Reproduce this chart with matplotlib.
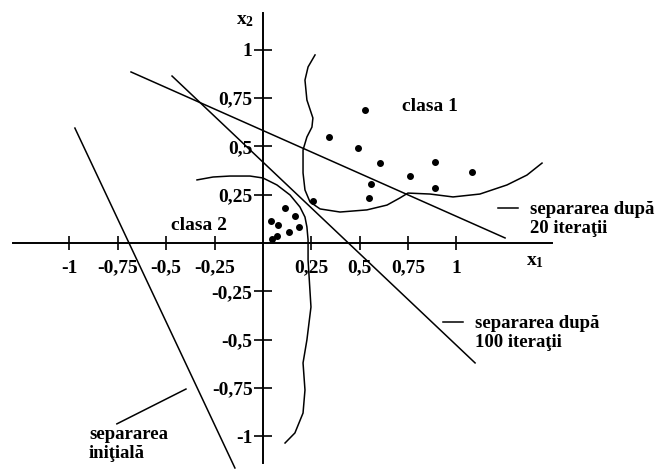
import matplotlib.pyplot as plt
import numpy as np

plt.rcParams["font.family"] = ["Liberation Serif", "DejaVu Serif"]
plt.rcParams["font.weight"] = "bold"
plt.rcParams["mathtext.fontset"] = "custom"
plt.rcParams["mathtext.rm"] = "Liberation Serif"
plt.rcParams["mathtext.bf"] = "Liberation Serif:bold"

# axis ticks and their labels (decimal comma)
x_ticks = [-1, -0.75, -0.5, -0.25, 0.25, 0.5, 0.75, 1]
x_tick_labels = ["-1", "-0,75", "-0,5", "-0,25", "0,25", "0,5", "0,75", "1"]
y_ticks = [1, 0.75, 0.5, 0.25, -0.25, -0.5, -0.75, -1]
y_tick_labels = ["1", "0,75", "0,5", "0,25", "-0,25", "-0,5", "-0,75", "-1"]

# training points
class1_x = [0.527, 0.341, 0.491, 0.605, 0.889, 0.760, 1.080, 0.558, 0.889, 0.548, 0.258]
class1_y = [0.687, 0.548, 0.491, 0.413, 0.419, 0.346, 0.367, 0.305, 0.284, 0.233, 0.217]
class2_x = [0.114, 0.165, 0.041, 0.078, 0.186, 0.134, 0.072, 0.047]
class2_y = [0.181, 0.140, 0.114, 0.093, 0.083, 0.057, 0.036, 0.021]

# hand-drawn class boundaries
bound1_x = [0.269, 0.233, 0.217, 0.227, 0.258, 0.253, 0.227, 0.207, 0.207, 0.217, 0.243, 0.295,
            0.398, 0.537, 0.641, 0.708, 0.749, 0.863, 0.982, 1.121, 1.261, 1.364, 1.442]
bound1_y = [0.972, 0.910, 0.842, 0.739, 0.646, 0.599, 0.548, 0.481, 0.362, 0.274, 0.212, 0.176,
            0.160, 0.171, 0.196, 0.233, 0.258, 0.253, 0.238, 0.253, 0.300, 0.351, 0.413]
bound2_x = [-0.341, -0.258, -0.171, -0.067, 0.0, 0.072, 0.140, 0.191, 0.217, 0.227, 0.233,
            0.233, 0.248, 0.227, 0.207, 0.217, 0.207, 0.165, 0.114]
bound2_y = [0.326, 0.341, 0.346, 0.346, 0.336, 0.300, 0.248, 0.186, 0.134, 0.083, 0.016,
            -0.088, -0.331, -0.501, -0.620, -0.760, -0.879, -0.982, -1.034]

# separating lines (end points)
sep_initial_x = [-0.972, -0.145]
sep_initial_y = [0.594, -1.163]
sep_20_x = [-0.682, 1.251]
sep_20_y = [0.884, 0.026]
sep_100_x = [-0.470, 1.096]
sep_100_y = [0.863, -0.620]

fig = plt.figure(figsize=(6.56, 4.73), dpi=100)
ax = fig.add_axes([0, 0, 1, 1])
ax.set_xlim(-1.359, 2.031)
ax.set_ylim(-1.189, 1.256)

# axes crossing at the origin
for side in ["top", "right"]:
    ax.spines[side].set_visible(False)
ax.spines["left"].set_position("zero")
ax.spines["bottom"].set_position("zero")
ax.spines["left"].set_bounds(-1.137, 1.189)
ax.spines["bottom"].set_bounds(-1.292, 1.494)
for side in ["left", "bottom"]:
    ax.spines[side].set_linewidth(1.4)

ax.set_xticks(x_ticks)
ax.set_xticklabels(x_tick_labels)
ax.set_yticks(y_ticks)
ax.set_yticklabels(y_tick_labels)
ax.tick_params(axis="x", direction="inout", length=10, width=1.2, pad=7, labelsize=14)
ax.tick_params(axis="y", direction="inout", length=13, width=1.2, pad=1, labelsize=14)

lw = 1.1
ax.plot(sep_initial_x, sep_initial_y, color="black", lw=lw)
ax.plot(sep_20_x, sep_20_y, color="black", lw=lw)
ax.plot(sep_100_x, sep_100_y, color="black", lw=lw)
ax.plot(bound1_x, bound1_y, color="black", lw=lw)
ax.plot(bound2_x, bound2_y, color="black", lw=lw)

ax.plot(class1_x, class1_y, "o", color="black", markersize=4)
ax.plot(class2_x, class2_y, "o", color="black", markersize=4)

fs = 14
ax.text(-0.093, 1.152, r"$\mathbf{x_2}$", fontsize=fs, ha="center", va="center")
ax.text(1.406, -0.098, r"$\mathbf{x_1}$", fontsize=fs, ha="center", va="center")
ax.text(0.863, 0.703, "clasa 1", fontsize=fs, ha="center", va="center")
ax.text(-0.331, 0.088, "clasa 2", fontsize=fs, ha="center", va="center")

# annotations for the separating lines
afs = 13.5
ax.plot([1.214, 1.318], [0.181, 0.181], color="black", lw=lw)
ax.text(1.380, 0.215, "separarea după\n20 iteraţii", fontsize=afs, ha="left", va="top",
        linespacing=1.15)
ax.plot([0.930, 1.034], [-0.408, -0.408], color="black", lw=lw)
ax.text(1.096, -0.374, "separarea după\n100 iteraţii", fontsize=afs, ha="left", va="top",
        linespacing=1.15)
ax.plot([-0.755, -0.398], [-0.935, -0.755], color="black", lw=lw)
ax.text(-0.899, -0.948, "separarea\niniţială", fontsize=afs, ha="left", va="top",
        linespacing=1.15)

fig.savefig("out.png", dpi=100, facecolor="white")
